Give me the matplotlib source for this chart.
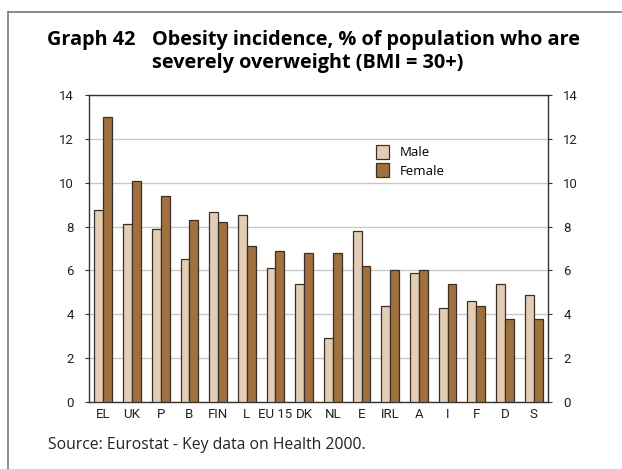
import numpy as np
import matplotlib
matplotlib.use('Agg')
import matplotlib.pyplot as plt
from matplotlib.lines import Line2D

countries = ['EL', 'UK', 'P', 'B', 'FIN', 'L', 'EU 15', 'DK', 'NL', 'E', 'IRL', 'A', 'I', 'F', 'D', 'S']
male = [8.75, 8.1, 7.9, 6.5, 8.65, 8.55, 6.1, 5.4, 2.9, 7.8, 4.4, 5.9, 4.3, 4.6, 5.4, 4.9]
female = [13.0, 10.1, 9.4, 8.3, 8.2, 7.1, 6.9, 6.8, 6.8, 6.2, 6.0, 6.0, 5.4, 4.4, 3.8, 3.8]

male_col = '#e3cdb4'
female_col = '#a0713e'
edge_col = '#3a3028'

plt.rcParams['font.family'] = ['Open Sans', 'DejaVu Sans']

fig = plt.figure(figsize=(6.22, 4.69), dpi=100)
ax = fig.add_axes([89/622, 1-402/469, 459/622, 307/469])

x = np.arange(len(countries))
w = 0.31
ax.bar(x - w/2, male, w, color=male_col, edgecolor=edge_col, linewidth=0.9, label='Male', zorder=3)
ax.bar(x + w/2, female, w, color=female_col, edgecolor=edge_col, linewidth=0.9, label='Female', zorder=3)

ax.set_xlim(-0.5, 15.5)
ax.set_ylim(0, 14)
ax.set_yticks(range(0, 15, 2))
ax.set_xticks(x)
ax.set_xticklabels(countries)
ax.tick_params(axis='x', length=0, pad=4, labelsize=9.5)
ax.tick_params(axis='y', length=3, pad=8, labelsize=9.5, left=True, right=True,
               labelleft=True, labelright=True, direction='out', color='#333333')
for t in ax.get_xticklabels() + ax.get_yticklabels():
    t.set_fontfamily(['Roboto', 'DejaVu Sans'])
    t.set_color('#222222')
ax.yaxis.grid(True, color='#c8c8c8', linewidth=1.0, zorder=0)
for s in ax.spines.values():
    s.set_color('#333333')
    s.set_linewidth(1.0)

leg = ax.legend(loc='upper left', bbox_to_anchor=(0.6, 0.875), frameon=False,
                fontsize=9.5, handlelength=1.0, handleheight=1.2, handletextpad=0.8,
                labelspacing=0.3)

fig.text(47/622, 1-40/469, 'Graph 42', fontsize=14.3, fontweight='bold', va='center', ha='left')
fig.text(152/622, 1-40/469, 'Obesity incidence, % of population who are', fontsize=14.3,
         fontweight='bold', va='center', ha='left')
fig.text(152/622, 1-63/469, 'severely overweight (BMI = 30+)', fontsize=14.3,
         fontweight='bold', va='center', ha='left')
fig.text(48/622, 1-445/469, 'Source: Eurostat - Key data on Health 2000.', fontsize=11.3,
         va='center', ha='left', color='#222222')

# frame around the chart (cropped on the right and bottom)
fig.add_artist(Line2D([8/622, 8/622], [0, 1-12/469], transform=fig.transFigure, color='#777777', linewidth=1.2))
fig.add_artist(Line2D([8/622, 1], [1-12/469, 1-12/469], transform=fig.transFigure, color='#777777', linewidth=1.2))

fig.savefig('out.png', dpi=100)
